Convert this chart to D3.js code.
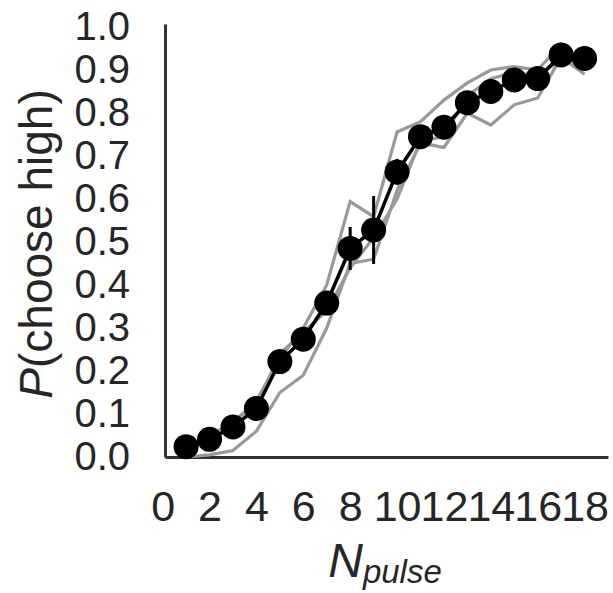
<!DOCTYPE html>
<html>
<head>
<meta charset="utf-8">
<script src="https://cdn.jsdelivr.net/npm/d3@7/dist/d3.min.js"></script>
<style>
  html, body { margin: 0; padding: 0; background: #fff; }
  svg { display: block; }
</style>
</head>
<body>
<svg id="chart" width="613" height="593"></svg>
<script>
// ---- data ----
const nPulse = [1, 2, 3, 4, 5, 6, 7, 8, 9, 10, 11, 12, 13, 14, 15, 16, 17, 18];
const meanP  = [0.024, 0.041, 0.070, 0.113, 0.222, 0.274, 0.358, 0.485, 0.528, 0.663, 0.745, 0.767, 0.824, 0.850, 0.877, 0.880, 0.935, 0.927];
const semP   = [0.008, 0.010, 0.012, 0.015, 0.020, 0.020, 0.025, 0.050, 0.079, 0.030, 0.020, 0.020, 0.020, 0.020, 0.015, 0.015, 0.012, 0.012];
const subjA  = [0.000, 0.005, 0.015, 0.060, 0.150, 0.190, 0.300, 0.450, 0.460, 0.620, 0.730, 0.720, 0.800, 0.772, 0.819, 0.835, 0.930, 0.890];
const subjB  = [0.020, 0.050, 0.080, 0.130, 0.230, 0.300, 0.400, 0.594, 0.559, 0.756, 0.780, 0.830, 0.870, 0.900, 0.908, 0.900, 0.960, 0.900];
const subjC  = [0.015, 0.040, 0.085, 0.120, 0.240, 0.290, 0.340, 0.440, 0.510, 0.600, 0.735, 0.745, 0.840, 0.880, 0.895, 0.885, 0.925, 0.915];
const subjects = [subjA, subjB, subjC];
const xTicks = [0, 2, 4, 6, 8, 10, 12, 14, 16, 18];
const yTicks = [0, 0.1, 0.2, 0.3, 0.4, 0.5, 0.6, 0.7, 0.8, 0.9, 1.0];

// ---- layout ----
const svg = d3.select("#chart");
const x = d3.scaleLinear().domain([0.1, 19]).range([165, 608]);
const y = d3.scaleLinear().domain([0, 1.007]).range([457, 24]);
const textColor = "#262626";

// axes
const gx = svg.append("g").attr("transform", `translate(0,${y(0)})`)
  .call(d3.axisBottom(x).tickValues(xTicks).tickFormat(d3.format("d")).tickSize(0).tickPadding(33));
const gy = svg.append("g").attr("transform", `translate(${x(0.1)},0)`)
  .call(d3.axisLeft(y).tickValues(yTicks).tickFormat(d3.format(".1f")).tickSize(0).tickPadding(35));
[gx, gy].forEach(g => {
  g.select(".domain").attr("stroke", "#333").attr("stroke-width", 3);
  g.selectAll("text").attr("fill", textColor).attr("font-family", "Liberation Sans, Arial, sans-serif");
});
gx.selectAll("text").attr("font-size", 43);
gy.selectAll("text").attr("font-size", 40);

// subject lines
const line = d3.line().x((d, i) => x(nPulse[i])).y(d => y(d));
svg.append("g").selectAll("path").data(subjects).join("path")
  .attr("d", d => line(d))
  .attr("fill", "none").attr("stroke", "#999").attr("stroke-width", 3.2)
  .attr("stroke-linejoin", "miter");

// mean line
svg.append("path").attr("d", line(meanP))
  .attr("fill", "none").attr("stroke", "#000").attr("stroke-width", 3.5);

// error bars
svg.append("g").selectAll("line").data(meanP).join("line")
  .attr("x1", (d, i) => x(nPulse[i])).attr("x2", (d, i) => x(nPulse[i]))
  .attr("y1", (d, i) => y(d - semP[i])).attr("y2", (d, i) => y(d + semP[i]))
  .attr("stroke", "#000").attr("stroke-width", 3);

// markers
svg.append("g").selectAll("circle").data(meanP).join("circle")
  .attr("cx", (d, i) => x(nPulse[i])).attr("cy", d => y(d)).attr("r", 12.5)
  .attr("fill", "#000");

// axis labels
const ylab = svg.append("text")
  .attr("transform", `translate(52,244) rotate(-90)`)
  .attr("text-anchor", "middle")
  .attr("font-family", "Liberation Sans, Arial, sans-serif")
  .attr("font-size", 46).attr("fill", textColor);
ylab.append("tspan").attr("font-style", "italic").text("P");
ylab.append("tspan").text("(choose high)");

const xlab = svg.append("text")
  .attr("x", 385).attr("y", 577)
  .attr("text-anchor", "middle")
  .attr("font-family", "Liberation Sans, Arial, sans-serif")
  .attr("fill", textColor).attr("font-style", "italic");
xlab.append("tspan").attr("font-size", 48).text("N");
xlab.append("tspan").attr("font-size", 33).attr("dy", 6).text("pulse");
</script>
</body>
</html>
